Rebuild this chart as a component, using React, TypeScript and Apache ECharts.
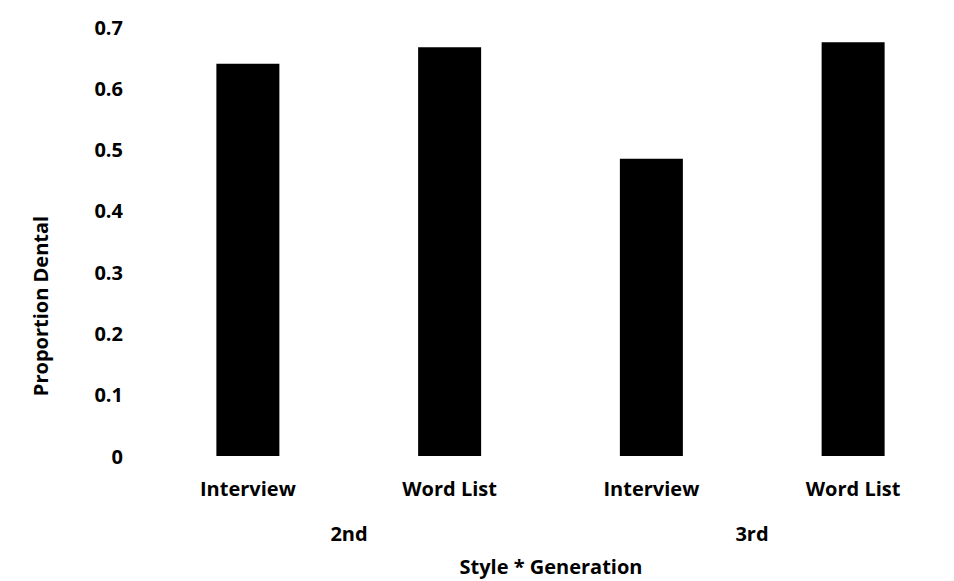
import React, { useEffect, useRef } from "react";
import * as echarts from "echarts";

const categories = ["Interview", "Word List", "Interview", "Word List"];
const values = [0.64, 0.667, 0.485, 0.675];
const groupLabels = ["2nd", "3rd"];
const xTitle = "Style * Generation";
const yTitle = "Proportion Dental";

const FONT = "'Open Sans', Lato, sans-serif";

export default function App() {
  const ref = useRef<HTMLDivElement>(null);
  useEffect(() => {
    if (!ref.current) return;
    const chart = echarts.init(ref.current, null, { renderer: "svg" });
    chart.setOption({
      animation: false,
      backgroundColor: "#fff",
      grid: { left: 147, right: -3, top: 27, bottom: 125, containLabel: false },
      xAxis: {
        type: "category",
        data: categories,
        axisLine: { show: false },
        axisTick: { show: false },
        axisLabel: {
          color: "#000",
          fontFamily: FONT,
          fontWeight: "bold",
          fontSize: 20,
          margin: 22,
        },
      },
      yAxis: {
        type: "value",
        min: 0,
        max: 0.7,
        interval: 0.1,
        splitLine: { show: false },
        axisLine: { show: false },
        axisTick: { show: false },
        axisLabel: {
          color: "#000",
          fontFamily: FONT,
          fontWeight: "bold",
          fontSize: 20,
          margin: 24,
          formatter: (v: number) => (v === 0 ? "0" : v.toFixed(1)),
        },
      },
      series: [
        {
          type: "bar",
          data: values,
          barWidth: 63,
          itemStyle: { color: "#000" },
        },
      ],
      graphic: [
        {
          type: "text",
          x: 349,
          y: 533,
          style: {
            text: groupLabels[0],
            fill: "#000",
            font: `bold 20px ${FONT}`,
            textAlign: "center",
            textVerticalAlign: "middle",
          },
        },
        {
          type: "text",
          x: 752,
          y: 533,
          style: {
            text: groupLabels[1],
            fill: "#000",
            font: `bold 20px ${FONT}`,
            textAlign: "center",
            textVerticalAlign: "middle",
          },
        },
        {
          type: "text",
          x: 551,
          y: 566,
          style: {
            text: xTitle,
            fill: "#000",
            font: `bold 20px ${FONT}`,
            textAlign: "center",
            textVerticalAlign: "middle",
          },
        },
        {
          type: "text",
          x: 40,
          y: 306,
          rotation: Math.PI / 2,
          style: {
            text: yTitle,
            fill: "#000",
            font: `bold 20px ${FONT}`,
            textAlign: "center",
            textVerticalAlign: "middle",
          },
        },
      ],
    });
    return () => chart.dispose();
  }, []);
  return (
    <div
      ref={ref}
      style={{ position: "fixed", left: 0, top: 0, width: 954, height: 581 }}
    />
  );
}
